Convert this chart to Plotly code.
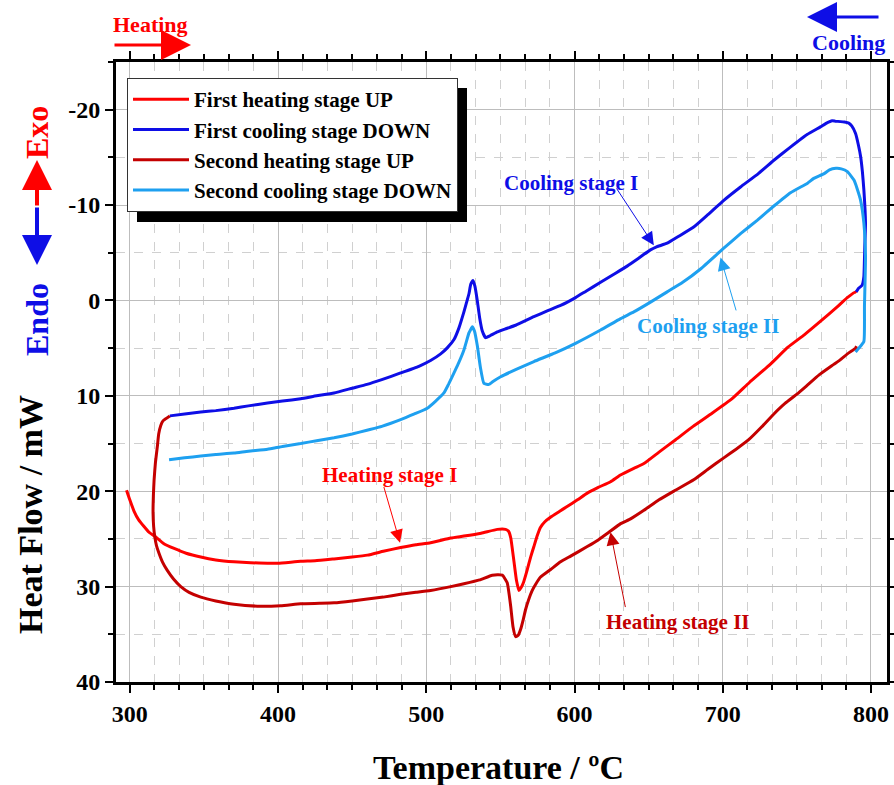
import plotly.graph_objects as go

# ---------------- data ----------------
heat1_T = [297.8, 300, 302.9, 306, 309.6, 313, 317.5, 323, 329.9, 338, 347.9, 358, 370.3, 381.6,
           392.9, 400, 415.3, 425, 437.8, 450, 460.3, 471, 482.7, 493, 502.9, 516.5, 525.4, 537,
           547.9, 553.5, 555.5, 557, 559.1, 560.8, 562.5, 564, 565.5, 568, 570.4, 572.6, 575, 577,
           580, 584, 590, 595, 602, 608.6, 616, 624.3, 631, 640, 646.8, 657, 668.2, 680, 693, 706.3,
           718, 732, 744, 755, 765, 777, 784, 789.6, 790.3]
heat1_H = [19.9, 20.9, 22.1, 23.0, 23.7, 24.3, 24.8, 25.5, 26.0, 26.5, 26.9, 27.2, 27.4, 27.5,
           27.55, 27.55, 27.35, 27.3, 27.1, 26.9, 26.7, 26.3, 25.9, 25.6, 25.4, 24.9, 24.7, 24.4,
           24.0, 24.0, 24.2, 24.9, 27.3, 29.3, 30.4, 30.1, 29.6, 28.3, 26.9, 25.8, 24.6, 23.8,
           23.2, 22.7, 22.1, 21.6, 20.9, 20.2, 19.6, 19.0, 18.3, 17.6, 17.1, 15.9, 14.6, 13.2, 11.8,
           10.3, 8.6, 6.7, 4.9, 3.6, 2.3, 0.7, -0.3, -0.9, -0.8]

cool1_T = [790.0, 791.8, 794.0, 795.2, 795.8, 796.3, 795.2, 794.2, 793.0, 791.5, 789.6, 787.0,
           785.0, 782.0, 779.4, 776.0, 773.8, 770.0, 765.9, 756.9, 745.0, 734.5, 724.0, 712.0,
           700.7, 690.0, 680.4, 670.0, 662.5, 655.0, 651.2, 643.0, 635.5, 626.0, 617.6, 608.0,
           600.7, 591.0, 581.6, 572.6, 560.3, 553.0, 547.9, 543.0, 540.0, 537.8, 536.0, 534.4,
           532.8, 531.5, 530.0, 528.8, 527.0, 525.4, 522.0, 518.7, 514.0, 509.7, 502.9, 495.0,
           482.7, 470.0, 460.0, 450.0, 437.8, 426.0, 415.3, 403.0, 392.9, 380.0, 370.3, 358.0,
           347.9, 337.0, 327.0]
cool1_H = [-0.9, -1.3, -1.6, -2.5, -5.6, -8.1, -11.6, -13.5, -15.1, -16.3, -17.5, -18.3,
           -18.6, -18.7, -18.75, -18.8, -18.85, -18.6, -18.2, -17.4, -16.0, -14.7, -13.3, -11.9,
           -10.5, -9.0, -7.7, -6.7, -6.0, -5.6, -5.3, -4.4, -3.6, -2.7, -1.9, -1.0,
           -0.3, 0.5, 1.1, 1.7, 2.6, 3.0, 3.3, 3.7, 3.9, 3.2, 1.8, 0.0,
           -1.5, -2.1, -1.7, -0.7, 0.3, 1.2, 2.9, 4.1, 5.0, 5.6, 6.3, 6.9,
           7.6, 8.3, 8.8, 9.2, 9.7, 10.0, 10.3, 10.55, 10.75, 11.05, 11.3, 11.55,
           11.7, 11.9, 12.1]

heat2_T = [327.0, 322.5, 320.9, 319.5, 318.6, 317.3, 316.4, 315.9, 315.7, 316.1, 316.9, 318.0,
           319.7, 322.0, 325.3, 329.5, 334.4, 340.0, 347.9, 358.0, 370.3, 386.0, 401.8, 415.3,
           428.0, 437.8, 450.0, 460.3, 471.0, 482.7, 493.0, 502.9, 516.5, 525.4, 536.0, 544.5,
           551.3, 554.6, 556.9, 558.5, 560.3, 562.0, 563.6, 565.5, 567.0, 569.0, 571.5, 574.0,
           577.1, 583.9, 590.6, 597.4, 608.6, 616.0, 623.2, 631.1, 637.8, 646.8, 657.0, 668.0,
           680.4, 690.0, 700.7, 709.0, 717.5, 726.0, 734.5, 742.0, 750.2, 756.9, 765.0, 774.9,
           779.4, 785.0, 789.6, 790.3]
heat2_H = [12.1, 12.6, 13.1, 14.0, 15.3, 17.0, 18.8, 20.5, 22.3, 23.7, 24.8, 25.7,
           26.5, 27.4, 28.3, 29.2, 30.0, 30.6, 31.1, 31.5, 31.85, 32.05, 32.0, 31.8,
           31.75, 31.7, 31.5, 31.3, 31.1, 30.8, 30.6, 30.4, 30.0, 29.7, 29.3, 28.8,
           28.8, 29.6, 32.0, 34.2, 35.25, 35.1, 34.5, 33.4, 32.4, 31.4, 30.4, 29.7,
           29.0, 28.2, 27.4, 26.8, 25.8, 25.1, 24.3, 23.4, 22.9, 22.0, 20.9, 19.9,
           18.8, 17.7, 16.5, 15.6, 14.6, 13.3, 11.9, 10.8, 9.8, 8.9, 7.8, 6.7,
           6.2, 5.5, 5.0, 4.8]

cool2_T = [789.6, 791.8, 795.2, 795.6, 796.3, 795.2, 793.0, 790.5, 788.6, 784.1, 780.0, 776.3,
           772.0, 768.4, 761.4, 757.2, 745.7, 734.5, 723.2, 712.0, 700.1, 685.0, 673.0, 662.5,
           651.0, 640.0, 631.1, 617.6, 600.7, 587.0, 572.6, 561.0, 550.2, 545.0, 542.3, 538.9,
           536.5, 534.5, 532.5, 531.0, 529.8, 528.8, 525.4, 522.0, 518.7, 515.0, 511.9, 506.0,
           500.7, 492.0, 482.7, 470.0, 460.0, 450.0, 437.8, 426.0, 415.3, 403.0, 392.9, 380.0,
           370.3, 358.0, 347.9, 337.0, 326.5]
cool2_H = [5.4, 5.0, 4.3, 0.6, -4.6, -8.1, -10.5, -11.8, -12.6, -13.5, -13.8, -13.85,
           -13.7, -13.3, -12.8, -12.3, -11.3, -9.9, -8.4, -7.0, -5.4, -3.3, -1.9, -0.9,
           0.2, 1.2, 1.9, 3.1, 4.5, 5.5, 6.4, 7.2, 8.0, 8.5, 8.8, 8.7,
           7.0, 4.8, 3.2, 2.75, 3.1, 3.4, 5.2, 6.5, 7.6, 8.8, 9.7, 10.6,
           11.3, 11.9, 12.5, 13.2, 13.6, 14.0, 14.4, 14.7, 15.0, 15.3, 15.6, 15.8,
           16.0, 16.15, 16.3, 16.5, 16.7]

series_names = ["First heating stage UP", "First cooling stage DOWN",
                "Second heating stage UP", "Second cooling stage DOWN"]
y_tickvals = [-20, -10, 0, 10, 20, 30, 40]
y_ticktext = ["-20", "-10", "0", "10", "20", "30", "40"]
x_tickvals = [300, 400, 500, 600, 700, 800]
x_ticktext = ["300", "400", "500", "600", "700", "800"]

# ---------------- styling ----------------
RED = "#FF0000"
BLUE = "#0E0EE6"
DRED = "#C40000"
LBLUE = "#1EA0F0"
FONT = "Liberation Serif"

W, H = 894, 785
L, R, T, B = 116, 7, 62, 103
PW, PH = W - L - R, H - T - B


def px_x(p):
    return (p - L) / PW


def px_y(p):
    return (H - B - p) / PH


fig = go.Figure()
for xs, ys, name, col in [(heat1_T, heat1_H, series_names[0], RED),
                          (cool1_T, cool1_H, series_names[1], BLUE),
                          (heat2_T, heat2_H, series_names[2], DRED),
                          (cool2_T, cool2_H, series_names[3], LBLUE)]:
    fig.add_trace(go.Scatter(x=xs, y=ys, mode="lines", name=name,
                             line=dict(color=col, width=3, shape="spline", smoothing=0.4)))

axis_common = dict(
    showline=True, linecolor="black", linewidth=3, mirror="ticks",
    ticks="outside", ticklen=8, tickwidth=2, tickcolor="black",
    showgrid=True, gridcolor="#BDBDBD", gridwidth=1, zeroline=False, automargin=False,
    tickfont=dict(family=FONT, size=24, color="black", weight="bold"),
)

fig.update_layout(
    width=W, height=H,
    margin=dict(l=L, r=R, t=T, b=B, autoexpand=False),
    paper_bgcolor="white", plot_bgcolor="white",
    font=dict(family=FONT, color="black"),
    xaxis=dict(range=[290.7, 810.8], tickmode="array", tickvals=x_tickvals, ticktext=x_ticktext,
               minor=dict(dtick=100 / 6, tick0=300, ticks="outside", ticklen=5, tickwidth=2,
                          tickcolor="black", showgrid=True, gridcolor="#D0D0D0", griddash="dash",
                          gridwidth=1),
               **axis_common),
    yaxis=dict(range=[40, -25], tickmode="array", tickvals=y_tickvals, ticktext=y_ticktext,
               minor=dict(dtick=5, tick0=-25, ticks="outside", ticklen=5, tickwidth=2,
                          tickcolor="black", showgrid=True, gridcolor="#D0D0D0", griddash="dash",
                          gridwidth=1),
               **axis_common),
    legend=dict(x=px_x(127), y=px_y(78), xanchor="left", yanchor="top",
                bgcolor="white", bordercolor="#333333", borderwidth=1,
                font=dict(family=FONT, size=21, color="black", weight="bold"), itemwidth=56,
                tracegroupgap=0),
    showlegend=True,
)

# legend shadow (offset behind the legend box)
fig.add_shape(type="rect", xref="paper", yref="paper",
              x0=px_x(137), x1=px_x(467), y0=px_y(222), y1=px_y(88),
              fillcolor="black", line=dict(width=0), layer="above")

ann = []


def text_ann(x, y, text, color, size, xref="x", yref="y", angle=0):
    ann.append(dict(x=x, y=y, xref=xref, yref=yref, text=text, showarrow=False,
                    font=dict(family=FONT, size=size, color=color, weight="bold"), textangle=angle,
                    xanchor="center", yanchor="middle"))


def arrow_ann(x, y, ax, ay, color, width, size, xref="x", yref="y", head=2):
    ann.append(dict(x=x, y=y, xref=xref, yref=yref, ax=ax, ay=ay,
                    axref=xref if xref == "x" else "pixel",
                    ayref=yref if yref == "y" else "pixel",
                    text="", showarrow=True, arrowhead=head, arrowsize=size,
                    arrowwidth=width, arrowcolor=color, standoff=0, startstandoff=0))


# in-plot labels
text_ann(475.5, 18.3, "Heating stage I", RED, 21)
arrow_ann(482.3, 25.4, 471.1, 19.4, RED, 1, 2.6)
text_ann(597.4, -12.3, "Cooling stage I", BLUE, 21)
arrow_ann(653.5, -5.8, 627.7, -11.9, BLUE, 1, 2.6)
text_ann(690.0, 2.7, "Cooling stage II", LBLUE, 21)
arrow_ann(698.5, -4.5, 709.3, 1.2, LBLUE, 1, 2.6)
text_ann(669.8, 33.7, "Heating stage II", DRED, 21)
arrow_ann(624.3, 24.3, 634.5, 32.3, DRED, 1, 2.6)

# axis titles
text_ann(px_x(498), px_y(767), "Temperature / ºC", "black", 34, xref="paper", yref="paper")
text_ann(px_x(30), px_y(515), "Heat Flow / mW", "black", 34, xref="paper", yref="paper", angle=-90)

# top direction labels
text_ann(px_x(150), px_y(24), "Heating", RED, 22, xref="paper", yref="paper")
arrow_ann(px_x(191), px_y(45), -78, 0, RED, 3, 2.0, xref="paper", yref="paper")
text_ann(px_x(848), px_y(42), "Cooling", BLUE, 22, xref="paper", yref="paper")
arrow_ann(px_x(807), px_y(17), 73, 0, BLUE, 3, 2.0, xref="paper", yref="paper")

# left side labels
text_ann(px_x(37), px_y(133), "Exo", RED, 32, xref="paper", yref="paper", angle=-90)
arrow_ann(px_x(37), px_y(160), 0, 47, RED, 4, 1.5, xref="paper", yref="paper")
arrow_ann(px_x(37), px_y(265), 0, -59, BLUE, 4, 1.5, xref="paper", yref="paper")
text_ann(px_x(37), px_y(320), "Endo", BLUE, 32, xref="paper", yref="paper", angle=-90)

fig.update_layout(annotations=ann)

fig.write_html("out.html", config={"displayModeBar": False},
               post_script="document.body.style.margin='0';document.body.style.overflow='hidden';")
